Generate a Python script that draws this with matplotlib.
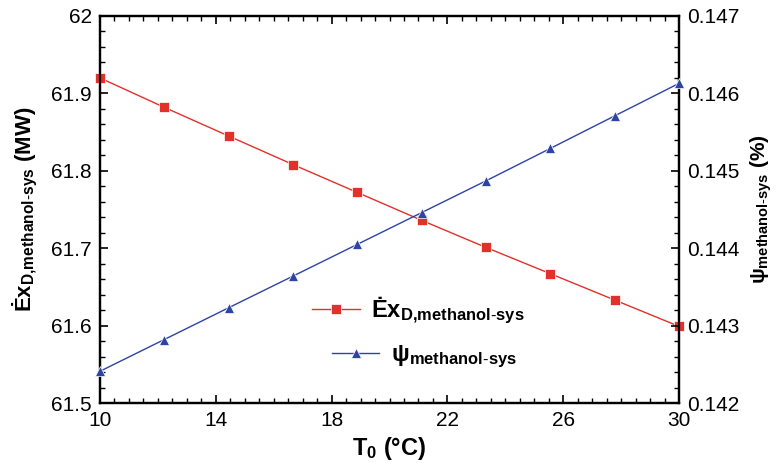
import numpy as np
import matplotlib
matplotlib.use("Agg")
import matplotlib.pyplot as plt
from matplotlib.ticker import MultipleLocator, FormatStrFormatter, FuncFormatter

plt.rcParams['font.family'] = ['Liberation Sans', 'DejaVu Sans']
plt.rcParams['mathtext.fontset'] = 'custom'
plt.rcParams['mathtext.rm'] = 'Liberation Sans'
plt.rcParams['mathtext.bf'] = 'Liberation Sans:bold'
plt.rcParams['mathtext.it'] = 'Liberation Sans:italic'

# ambient temperature (deg C)
t0 = [10.0, 12.22, 14.44, 16.67, 18.89, 21.11, 23.33, 25.56, 27.78, 30.0]
# exergy destruction of the methanol system (MW)
ex_d = [61.920, 61.882, 61.845, 61.808, 61.772, 61.736, 61.701, 61.667, 61.633, 61.599]
# exergy efficiency of the methanol system (%)
psi = [0.14241, 0.14282, 0.14323, 0.14364, 0.14405, 0.14446, 0.14487, 0.14529, 0.14571, 0.14613]
x_ticks = [10, 14, 18, 22, 26, 30]

red = '#e2302a'
blue = '#2c44a4'

fig = plt.figure(figsize=(7.78, 4.69), dpi=100)
ax = fig.add_axes([0.1285, 0.1407, 0.7443, 0.8252])
ax2 = ax.twinx()

l1, = ax.plot(t0, ex_d, color=red, lw=1.0, marker='s', ms=6.5,
              mfc=red, mec='white', mew=0.5, clip_on=False, zorder=3)
l2, = ax2.plot(t0, psi, color=blue, lw=1.0, marker='^', ms=7,
               mfc=blue, mec='white', mew=0.5, clip_on=False, zorder=3)

ax.set_xlim(10, 30)
ax.set_ylim(61.5, 62.0)
ax2.set_ylim(0.142, 0.147)

ax.set_xticks(x_ticks)
ax.xaxis.set_minor_locator(MultipleLocator(0.5))
ax.yaxis.set_major_locator(MultipleLocator(0.1))
ax.yaxis.set_minor_locator(MultipleLocator(0.02))
ax.yaxis.set_major_formatter(FuncFormatter(lambda v, p: f'{v:g}'))
ax2.yaxis.set_major_locator(MultipleLocator(0.001))
ax2.yaxis.set_minor_locator(MultipleLocator(0.0002))
ax2.yaxis.set_major_formatter(FormatStrFormatter('%.3f'))

ax.tick_params(axis='x', which='both', direction='in', top=True, labelsize=15, pad=6)
ax.tick_params(axis='y', which='both', direction='in', left=True, right=False, labelsize=15, pad=6)
ax2.tick_params(axis='y', which='both', direction='in', labelsize=15, pad=6)
for a in (ax, ax2):
    a.tick_params(which='major', length=6, width=1.2)
    a.tick_params(which='minor', length=3.5, width=1.0)
    for s in a.spines.values():
        s.set_linewidth(1.6)

ax.set_xlabel(r'T$_\mathbf{0}$ (°C)', fontsize=17, fontweight='bold', labelpad=3)
ax.set_ylabel(r'Ėx$_\mathbf{D{,}methanol\text{-}sys}$ (MW)', fontsize=16, fontweight='bold', labelpad=8)
ax2.set_ylabel(r'ψ$_\mathbf{methanol\text{-}sys}$ (%)', fontsize=15, fontweight='bold',
               rotation=90, labelpad=6)

leg1 = ax.legend([l1], [r'Ėx$_\mathbf{D{,}methanol\text{-}sys}$'], loc='center left',
                 bbox_to_anchor=(0.33, 0.24), frameon=False, handlelength=2.0,
                 prop={'size': 17, 'weight': 'bold'}, handletextpad=0.5)
ax.add_artist(leg1)
ax.legend([l2], [r'ψ$_\mathbf{methanol\text{-}sys}$'], loc='center left',
          bbox_to_anchor=(0.364, 0.12), frameon=False, handlelength=2.0,
          prop={'size': 17, 'weight': 'bold'}, handletextpad=0.5)

fig.savefig('out.png', dpi=100)
